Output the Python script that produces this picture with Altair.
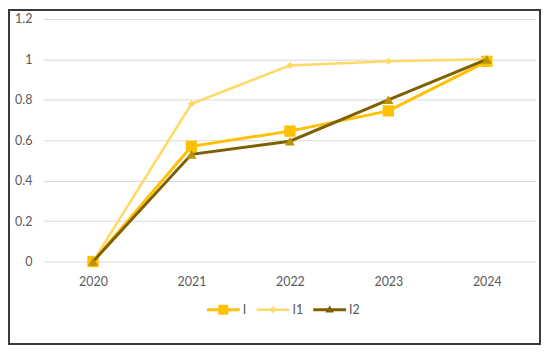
import altair as alt
import pandas as pd

years = ["2020", "2021", "2022", "2023", "2024"]
series_names = ["I", "I1", "I2"]
values_I = [0.0, 0.57, 0.645, 0.745, 0.99]
values_I1 = [0.0, 0.78, 0.97, 0.99, 1.0]
values_I2 = [0.0, 0.53, 0.595, 0.80, 1.0]
y_ticks = [0, 0.2, 0.4, 0.6, 0.8, 1.0, 1.2]

line_colors = ["#FFC000", "#FFD966", "#7F6000"]
marker_colors = ["#FFC000", "#FFD966", "#BF9000"]
marker_shapes = ["square", "diamond", "triangle-up"]
marker_sizes = [130, 50, 100]
line_widths = [3, 2.5, 3]

legend_paths = [
    "M-1,-0.09H1V0.09H-1Z M-0.3,-0.3H0.3V0.3H-0.3Z",
    "M-1,-0.075H1V0.075H-1Z M0,-0.22L0.22,0L0,0.22L-0.22,0Z",
    "M-1,-0.09H1V0.09H-1Z M-0.26,0.16L0,-0.26L0.26,0.16Z",
]

rows = []
for name, vals in zip(series_names, [values_I, values_I1, values_I2]):
    for yr, v in zip(years, vals):
        rows.append({"year": yr, "value": v, "series": name})
df = pd.DataFrame(rows)

FONT = "Lato"
TXT = "#595959"

x_enc = alt.X(
    "year:N",
    sort=years,
    scale=alt.Scale(type="point", padding=0.5),
    axis=alt.Axis(title=None, labelAngle=0, grid=False, domain=False, ticks=False,
                  labelPadding=14, labelFont=FONT, labelFontSize=12.5, labelColor=TXT),
)
y_enc = alt.Y(
    "value:Q",
    scale=alt.Scale(domain=[0, 1.2], nice=False),
    axis=alt.Axis(title=None, values=y_ticks, format="~g", grid=True, gridColor="#d9d9d9",
                  gridWidth=1, domain=False, ticks=False, labelPadding=12,
                  labelFont=FONT, labelFontSize=12.5, labelColor=TXT),
)

base = alt.Chart(df)
layers = []
for i, name in enumerate(series_names):
    sub = base.transform_filter(alt.datum.series == name)
    layers.append(
        sub.mark_line(color=line_colors[i], strokeWidth=line_widths[i]).encode(x=x_enc, y=y_enc)
    )
    layers.append(
        sub.mark_point(filled=True, opacity=1, shape=marker_shapes[i], size=marker_sizes[i],
                       color=marker_colors[i]).encode(x=x_enc, y=y_enc)
    )

legend_layer = base.mark_point(filled=True, opacity=0).encode(
    x=x_enc,
    y=y_enc,
    color=alt.Color("series:N", scale=alt.Scale(domain=series_names, range=line_colors),
                    legend=alt.Legend(title=None)),
    shape=alt.Shape("series:N", scale=alt.Scale(domain=series_names, range=legend_paths),
                    legend=alt.Legend(title=None)),
)
layers.append(legend_layer)

frame = alt.Chart(alt.Data(values=[{"a": 1}])).mark_rect(
    filled=False, stroke="#3a3a3a", strokeWidth=2
).encode(
    x=alt.value(-35), x2=alt.value(499), y=alt.value(-9), y2=alt.value(327)
)
layers.append(frame)

chart = alt.layer(*layers).properties(
    width=495,
    height=244,
    padding={"left": 36, "top": 10, "right": 6, "bottom": 84},
    autosize=alt.AutoSizeParams(type="none"),
).configure_view(
    stroke=None
).configure_legend(
    orient="none",
    legendX=164,
    legendY=276,
    direction="horizontal",
    symbolSize=1089,
    symbolOpacity=1,
    symbolStrokeWidth=0,
    labelFont=FONT,
    labelFontSize=12.5,
    labelColor=TXT,
    labelOffset=3,
    columnPadding=10,
    padding=0,
)

chart.save("out.html", embed_options={"renderer": "svg", "actions": False})
